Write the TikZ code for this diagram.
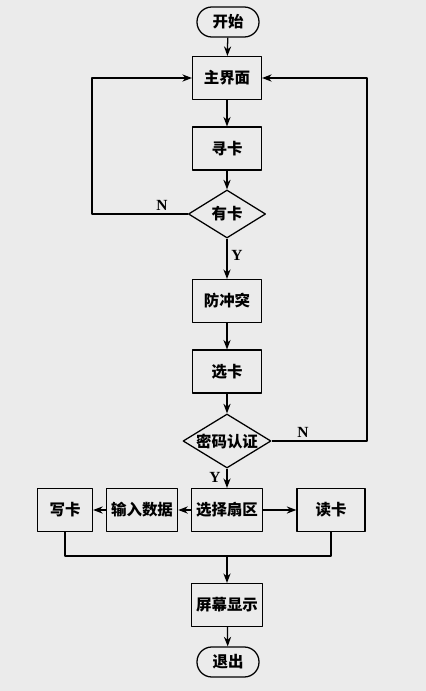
\documentclass[tikz,border=0pt]{standalone}
\usepackage{fontspec}
\setmainfont{Liberation Serif}
\newfontfamily\cjk{Noto Sans CJK SC}
\usetikzlibrary{shapes.geometric,arrows.meta}
\begin{document}
\begin{tikzpicture}[x=0.025cm, y=-0.025cm, >={Stealth[length=2.4mm,width=1.8mm]}, line width=0.9pt, line join=round]
	\tikzset{proc/.style={draw, minimum width=1.72cm, minimum height=1.07cm, font=\cjk\bfseries\fontsize{11}{13}\selectfont},
	term/.style={draw, rounded corners=0.37cm, minimum width=1.55cm, minimum height=0.75cm, font=\cjk\bfseries\fontsize{11}{13}\selectfont},
	decide/.style={draw, diamond, aspect=1.6, inner sep=0pt, font=\cjk\bfseries\fontsize{11}{13}\selectfont},
	yn/.style={font=\bfseries\fontsize{11}{13}\selectfont}}
	\fill[black!8] (0,0) rectangle (426,691);
	\node[term] (start) at (228,22) {开始};
	\node[proc] (main) at (227,78) {主界面};
	\node[proc] (seek) at (227,148.5) {寻卡};
	\node[decide, minimum width=1.93cm, minimum height=1.2cm] (hascard) at (227,214) {有卡};
	\node[proc] (anti) at (227,301) {防冲突};
	\node[proc] (select) at (227,371.5) {选卡};
	\node[decide, minimum width=2.2cm, minimum height=1.35cm] (auth) at (227,441) {密码认证};
	\node[proc, minimum width=1.75cm] (sector) at (227,510) {选择扇区};
	\node[proc, minimum width=1.75cm] (input) at (142,510) {输入数据};
	\node[proc, minimum width=1.375cm] (write) at (65,510) {写卡};
	\node[proc, minimum width=1.7cm] (read) at (331,510) {读卡};
	\node[proc] (show) at (227,605) {屏幕显示};
	\node[term] (quit) at (228,662) {退出};
	\coordinate (bus) at (227,556);
	%
	\draw[->] (start) -- (main);
	\draw[->] (main) -- (seek);
	\draw[->] (seek) -- (hascard);
	\draw[->] (hascard) -- (anti);
	\draw[->] (anti) -- (select);
	\draw[->] (select) -- (auth);
	\draw[->] (auth) -- (sector);
	\draw[->] (sector) -- (input);
	\draw[->] (input) -- (write);
	\draw[->] (sector) -- (read);
	\draw[->] (hascard.west) -| (92,78) -- (main.west);
	\draw[->] (auth.east) -| (367,78) -- (main.east);
	\draw (write.south) |- (bus) -| (read.south);
	\draw[->] (bus) -- (show);
	\draw[->] (show) -- (quit);
	\node[yn] (n1) at (162,205) {N};
	\node[yn] (y1) at (237,255) {Y};
	\node[yn] (n2) at (303,432) {N};
	\node[yn] (y2) at (215,477) {Y};
\end{tikzpicture}
\end{document}
